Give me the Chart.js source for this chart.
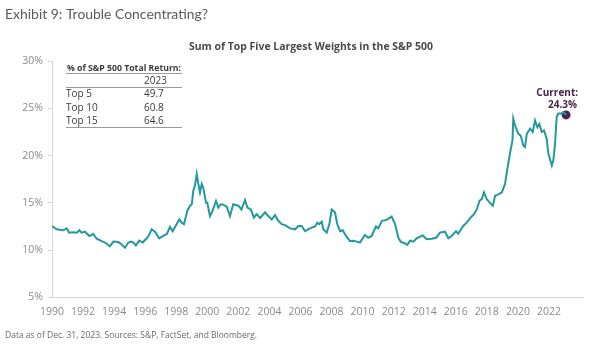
<!DOCTYPE html>
<html>
<head>
<meta charset="utf-8">
<title>Trouble Concentrating?</title>
<script src="https://cdn.jsdelivr.net/npm/chart.js@4/dist/chart.umd.min.js"></script>
<style>
  html, body { margin: 0; padding: 0; background: #fff; }
  #wrap { position: relative; width: 600px; height: 345px; }
</style>
</head>
<body>
<div id="wrap"><canvas id="weights-chart"></canvas></div>
<script>
/* ── Data ── */
const yearTicks = [1990,1992,1994,1996,1998,2000,2002,2004,2006,2008,2010,2012,2014,2016,2018,2020,2022];
const pctTicks = [5, 10, 15, 20, 25, 30];

// date as decimal year, weight in %
const dates = [
  1990.00,1990.30,1990.73,1990.95,1991.10,1991.37,1991.60,1991.76,1991.90,
  1992.12,1992.40,1992.66,1992.88,1993.20,1993.41,1993.73,1993.95,
  1994.27,1994.49,1994.70,1994.91,1995.10,1995.24,1995.40,1995.62,1995.84,
  1996.10,1996.25,1996.42,1996.63,1996.90,1997.17,1997.39,1997.60,1997.77,
  1998.03,1998.20,1998.35,1998.50,1998.71,1998.89,1999.00,1999.10,1999.20,1999.32,
  1999.42,1999.53,1999.64,1999.74,1999.92,2000.00,2000.17,2000.35,2000.56,2000.71,2000.86,
  2001.03,2001.25,2001.46,2001.67,2002.00,2002.20,2002.43,2002.58,2002.80,
  2003.00,2003.18,2003.40,2003.72,2003.93,2004.15,2004.36,2004.57,2004.79,
  2005.00,2005.33,2005.65,2005.86,2006.08,2006.29,2006.61,2006.93,
  2007.08,2007.20,2007.37,2007.47,2007.69,2007.86,2008.01,2008.22,2008.37,2008.55,2008.72,2008.93,
  2009.19,2009.40,2009.62,2009.83,2010.15,2010.37,2010.58,2010.86,
  2011.00,2011.25,2011.55,2011.87,2012.09,2012.30,2012.45,2012.73,2012.88,
  2013.05,2013.27,2013.48,2013.87,2014.13,2014.45,2014.73,2014.98,
  2015.30,2015.52,2015.74,2016.01,2016.16,2016.48,2016.70,2016.96,
  2017.17,2017.35,2017.52,2017.67,2017.82,2017.99,2018.20,2018.38,2018.53,2018.74,2018.96,
  2019.17,2019.32,2019.50,2019.65,2019.70,2019.81,2020.03,2020.18,2020.35,2020.46,2020.57,2020.78,2020.95,
  2021.10,2021.25,2021.38,2021.53,2021.68,2021.85,2021.96,2022.18,2022.28,2022.39,
  2022.50,2022.60,2022.82,2022.92,2023.10
];
const weights = [
  12.55,12.2,12.1,12.3,11.85,11.9,11.85,12.1,11.85,
  11.95,11.5,11.7,11.2,10.95,10.8,10.4,10.9,
  10.85,10.6,10.25,10.8,10.9,10.8,10.5,11.0,10.8,
  11.25,11.6,12.2,11.95,11.25,11.5,11.7,12.45,12.0,
  12.75,13.25,12.9,12.75,14.15,14.7,14.85,16.3,16.8,18.05,
  17.0,16.1,17.0,16.6,15.0,15.0,13.6,14.2,15.2,14.5,14.85,
  14.8,14.6,13.6,14.85,14.7,14.3,15.3,14.5,14.3,
  13.45,13.8,13.4,14.0,13.6,13.25,13.7,13.1,12.75,
  12.65,12.3,12.2,12.55,12.55,12.0,12.3,12.5,
  12.9,12.75,13.0,12.2,11.85,12.75,14.3,14.0,12.75,12.0,12.1,11.5,
  10.95,11.0,10.9,10.8,11.6,11.3,11.5,12.5,
  12.3,13.1,13.2,13.55,12.75,11.3,10.9,10.7,10.55,
  11.0,10.9,11.25,11.55,11.15,11.2,11.3,11.85,
  11.95,11.25,11.5,12.0,11.75,12.55,12.9,13.45,
  13.8,14.3,15.2,15.4,16.1,15.4,15.0,14.7,15.75,15.9,16.1,
  17.0,18.6,20.35,21.6,23.9,23.2,22.3,22.1,21.05,20.9,22.3,22.85,22.5,
  23.7,23.0,23.35,22.5,22.65,21.8,20.2,18.95,19.5,21.25,
  24.1,24.45,24.45,24.6,24.3
];

const currentDate = 2023.10;
const currentValue = 24.3;

const tableRows = ['Top 5', 'Top 10', 'Top 15'];
const tableValues = ['49.7', '60.8', '64.6'];

/* ── Colours / fonts ── */
const LINE = '#23999c';
const PURPLE = '#4e2450';
const AXIS = '#d6d6d6';
const TICK_TEXT = '#8a8a8a';
const FONT = "'Open Sans', sans-serif";

/* ── Extra text: exhibit title, chart title, table, callout, footer ── */
const decorPlugin = {
  id: 'decor',
  afterDraw(chart) {
    const ctx = chart.ctx;
    ctx.save();

    // exhibit heading
    ctx.fillStyle = '#5a5a5a';
    ctx.font = "14px Lato, sans-serif";
    ctx.textAlign = 'left';
    ctx.textBaseline = 'alphabetic';
    ctx.fillText('Exhibit 9: Trouble Concentrating?', 5, 19, 203);

    // chart title
    ctx.fillStyle = '#4a4a4a';
    ctx.font = "bold 11px " + FONT;
    ctx.textAlign = 'center';
    ctx.fillText('Sum of Top Five Largest Weights in the S&P 500', 311, 50, 244);

    // return table
    const tx0 = 66, tx1 = 182, vx = 144;
    ctx.textAlign = 'left';
    ctx.fillStyle = '#3a3a3a';
    ctx.font = "bold 9px " + FONT;
    ctx.fillText('% of S&P 500 Total Return:', tx0 + 1, 71, 114);
    ctx.font = "10px " + FONT;
    ctx.fillText('2023', vx, 84);
    tableRows.forEach((r, i) => {
      const y = 97 + i * 13.5;
      ctx.fillText(r, tx0, y);
      ctx.fillText(tableValues[i], vx, y);
    });
    ctx.strokeStyle = '#9a9a9a';
    ctx.lineWidth = 1;
    [73.5, 87.5, 127.5].forEach(y => {
      ctx.beginPath();
      ctx.moveTo(tx0, y);
      ctx.lineTo(tx1, y);
      ctx.stroke();
    });

    // current value callout, anchored on the last point
    const xs = chart.scales.x, ys = chart.scales.y;
    const px = xs.getPixelForValue(currentDate);
    const py = ys.getPixelForValue(currentValue);
    ctx.fillStyle = PURPLE;
    ctx.font = "bold 10px " + FONT;
    ctx.textAlign = 'right';
    ctx.fillText('Current:', px + 12, py - 19);
    ctx.fillText(currentValue.toFixed(1) + '%', px + 11, py - 7);

    // footer
    ctx.fillStyle = '#6a6a6a';
    ctx.font = "8.5px " + FONT;
    ctx.textAlign = 'left';
    ctx.fillText('Data as of Dec. 31, 2023. Sources: S&P, FactSet, and Bloomberg.', 5, 338, 268);

    ctx.restore();
  }
};

/* ── Chart ── */
function initChart() {
  const ctx = document.getElementById('weights-chart');
  const series = dates.map((d, i) => ({ x: d, y: weights[i] }));

  new Chart(ctx, {
    type: 'line',
    data: {
      datasets: [
        {
          label: 'Top five weight',
          data: series,
          borderColor: LINE,
          borderWidth: 2,
          pointRadius: 0,
          tension: 0,
          fill: false,
        },
        {
          label: 'Current',
          data: [{ x: currentDate, y: currentValue }],
          showLine: false,
          pointRadius: 4.5,
          pointBackgroundColor: PURPLE,
          pointBorderColor: PURPLE,
          pointBorderWidth: 0,
        }
      ]
    },
    options: {
      responsive: true,
      maintainAspectRatio: false,
      animation: false,
      layout: { padding: { top: 61, left: 22, right: 17, bottom: 19 } },
      plugins: {
        legend: { display: false },
        tooltip: { enabled: false },
        title: { display: false },
      },
      scales: {
        x: {
          type: 'linear',
          min: 1990,
          max: 2024.19,
          grid: { drawOnChartArea: false, drawTicks: false },
          border: { display: true, color: AXIS, width: 1 },
          afterBuildTicks: axis => { axis.ticks = yearTicks.map(v => ({ value: v })); },
          ticks: {
            color: TICK_TEXT,
            font: { family: FONT, size: 10.5 },
            padding: 8,
            maxRotation: 0,
            autoSkip: false,
            callback: v => String(v),
          },
        },
        y: {
          min: 5,
          max: 30,
          afterFit: axis => { axis.width = 30; },
          afterBuildTicks: axis => { axis.ticks = pctTicks.map(v => ({ value: v })); },
          grid: { drawOnChartArea: false, drawTicks: true, tickLength: 4, color: AXIS },
          border: { display: true, color: AXIS, width: 1 },
          ticks: {
            color: TICK_TEXT,
            font: { family: FONT, size: 10.5 },
            padding: 5,
            callback: v => v + '%',
          },
        }
      }
    },
    plugins: [decorPlugin]
  });
}

document.addEventListener('DOMContentLoaded', initChart);
</script>
</body>
</html>
